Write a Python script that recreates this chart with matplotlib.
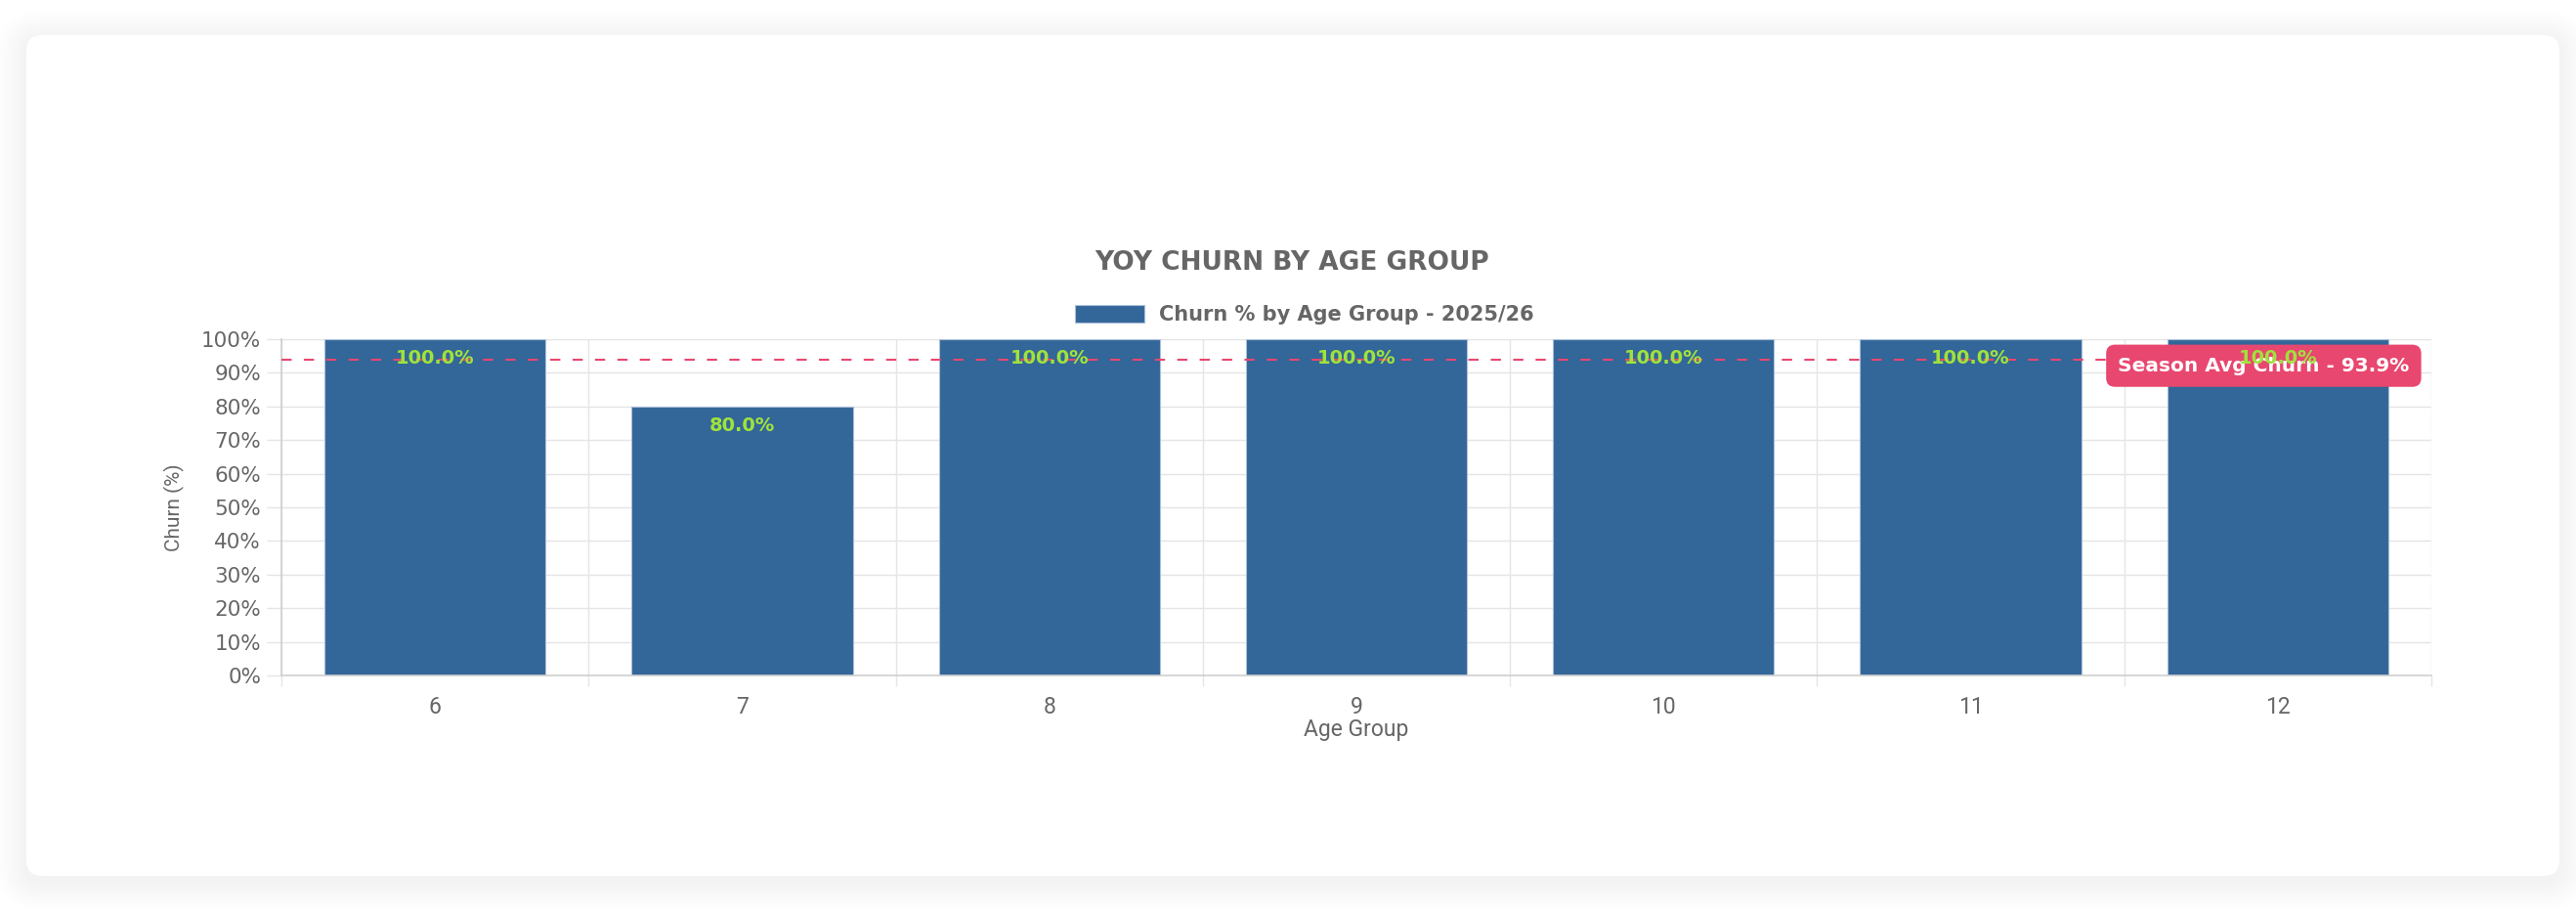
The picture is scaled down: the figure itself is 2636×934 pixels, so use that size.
import matplotlib
matplotlib.use('Agg')
import matplotlib.pyplot as plt
import matplotlib.patches as mpatches
import matplotlib.transforms as mtransforms
from matplotlib.ticker import FixedLocator, FuncFormatter

# Dữ liệu
age_groups = ['6', '7', '8', '9', '10', '11', '12']
churn_pct = [100.0, 80.0, 100.0, 100.0, 100.0, 100.0, 100.0]
season_avg = 93.9
series_name = 'Churn % by Age Group - 2025/26'
chart_title = 'YOY CHURN BY AGE GROUP'

bar_color = '#336699'
label_color = '#9fe23c'
avg_color = '#e8476f'
text_gray = '#666666'
grid_color = '#e5e5e5'

plt.rcParams['font.family'] = ['DejaVu Sans']

W, H = 2636, 934
fig = plt.figure(figsize=(W / 100, H / 100), dpi=100)
fig.patch.set_facecolor('white')
ident = mtransforms.IdentityTransform()

# Card + shadow (pixel coords, origin bottom-left)
cx0, cy0, cx1, cy1 = 27, 38, 2619, 898
for i in range(12, 0, -1):
    g = i * 2.5
    sh = mpatches.FancyBboxPatch((cx0 - g, cy0 - g - 5), cx1 - cx0 + 2 * g, cy1 - cy0 + 2 * g,
                                 boxstyle=f'round,pad=0,rounding_size={16 + g}',
                                 transform=ident, facecolor='#000000', edgecolor='none',
                                 alpha=0.0045, zorder=0)
    fig.add_artist(sh)
card = mpatches.FancyBboxPatch((cx0, cy0), cx1 - cx0, cy1 - cy0,
                               boxstyle='round,pad=0,rounding_size=16',
                               transform=ident, facecolor='white', edgecolor='none', zorder=0)
fig.add_artist(card)

# Axes
ax = fig.add_axes([288 / W, 243 / H, 2200 / W, 344 / H])
ax.set_facecolor('none')
x = list(range(len(age_groups)))
bars = ax.bar(x, churn_pct, width=0.72, color=bar_color, edgecolor='#a9bfd9', linewidth=0.8, zorder=2)

ax.set_xlim(-0.5, len(age_groups) - 0.5)
ax.set_ylim(0, 100)

# Grid
ax.set_yticks(range(0, 101, 10))
ax.yaxis.set_major_formatter(FuncFormatter(lambda v, p: f'{int(v)}%'))
ax.set_xticks(x)
ax.set_xticklabels(age_groups)
ax.xaxis.set_minor_locator(FixedLocator([i - 0.5 for i in range(len(age_groups) + 1)]))
ax.grid(True, axis='y', which='major', color=grid_color, linewidth=1, zorder=0)
ax.grid(True, axis='x', which='minor', color=grid_color, linewidth=1, zorder=0)
ax.tick_params(axis='y', length=11, width=1, color=grid_color, labelsize=15.5, labelcolor=text_gray, pad=4)
ax.tick_params(axis='x', which='major', length=0, labelsize=16.5, labelcolor=text_gray, pad=15)
ax.tick_params(axis='x', which='minor', length=8, width=1, color=grid_color)
for lab in ax.get_xticklabels():
    lab.set_family('Roboto')

for s in ['top', 'right']:
    ax.spines[s].set_visible(False)
for s in ['left', 'bottom']:
    ax.spines[s].set_color('#cfcfcf')
    ax.spines[s].set_linewidth(1.2)

ax.set_ylabel('Churn (%)', fontsize=15, color=text_gray, family='Roboto')
ax.yaxis.set_label_coords(-0.05, 0.5)
ax.yaxis.label.set_va('center')
ax.set_xlabel('Age Group', fontsize=16.5, color=text_gray, family='Roboto')
ax.xaxis.set_label_coords(0.5, -0.16)
ax.xaxis.label.set_va('center')

# Nhãn trên cột
for xi, v in zip(x, churn_pct):
    ax.annotate(f'{v:.1f}%', (xi, v), xytext=(0, -14), textcoords='offset points',
                ha='center', va='center', fontsize=14, fontweight='bold', color=label_color, zorder=7)

# Đường trung bình
ax.axhline(season_avg, color=avg_color, linewidth=1.5, dashes=(5, 6), zorder=4)
avg_tf = mtransforms.blended_transform_factory(ax.transAxes, ax.transData)
ax.text(0.922, season_avg - 1.8, f'Season Avg Churn - {season_avg}%', transform=avg_tf,
        ha='center', va='center', fontsize=14.5, fontweight='bold', color='white', zorder=6,
        bbox=dict(boxstyle='round,pad=0.6,rounding_size=0.45', facecolor=avg_color, edgecolor='none'))

# Tiêu đề và chú thích
fig.text(1322 / W, 1 - 269 / H, chart_title, ha='center', va='center', fontsize=19,
         fontweight='bold', color=text_gray)
handle = mpatches.Patch(facecolor=bar_color, edgecolor='#a9bfd9', linewidth=0.8, label=series_name)
leg = fig.legend(handles=[handle], loc='center', bbox_to_anchor=(1335 / W, 1 - 322 / H),
                 frameon=False, prop={'weight': 'bold', 'size': 15}, handlelength=3.4,
                 handleheight=0.95, handletextpad=0.7)
for t in leg.get_texts():
    t.set_color(text_gray)

fig.savefig('out.png', dpi=100)
